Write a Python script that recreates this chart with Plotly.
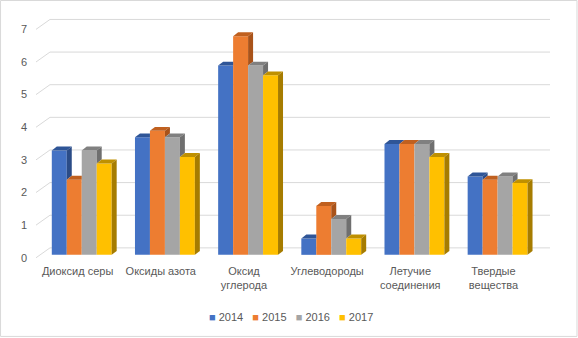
import plotly.graph_objects as go

categories = ["Диоксид серы", "Оксиды азота", "Оксид<br>углерода", "Углеводороды",
              "Летучие<br>соединения", "Твердые<br>вещества"]
years = ["2014", "2015", "2016", "2017"]
v2014 = [3.2, 3.6, 5.8, 0.5, 3.4, 2.4]
v2015 = [2.3, 3.8, 6.7, 1.5, 3.4, 2.3]
v2016 = [3.2, 3.6, 5.8, 1.1, 3.4, 2.4]
v2017 = [2.8, 3.0, 5.5, 0.5, 3.0, 2.2]
y_ticks = [0, 1, 2, 3, 4, 5, 6, 7]

series = [v2014, v2015, v2016, v2017]
front = ["#4472C4", "#ED7D31", "#A5A5A5", "#FFC000"]
top_c = ["#2F5597", "#C0601F", "#808080", "#BF9000"]
side_c = ["#2B4C87", "#A9531A", "#6F6F6F", "#A67C00"]

BAR_W = 0.18
OFFSETS = [-0.31, -0.13, 0.05, 0.23]
DX, DY = 0.06, 0.12
idx = list(range(len(categories)))

X_MIN, X_MAX = -0.5, 5.68
BACK_X = -0.332
BACK_DY = 0.214
LABEL_SHIFT = -0.09

fig = go.Figure()
shapes = []

for s, vals in enumerate(series):
    fig.add_trace(go.Bar(x=idx, y=vals, width=BAR_W, offset=OFFSETS[s], name=years[s],
                         marker=dict(color=front[s], line=dict(width=0)), showlegend=False,
                         hoverinfo="y"))
    for c, v in enumerate(vals):
        x0 = c + OFFSETS[s]
        x1 = x0 + BAR_W
        h = series[s + 1][c] if s < len(series) - 1 else 0
        if h > v:
            p = f"M {x0},{v} L {x1},{v} L {x1},{v+DY} L {x0+DX},{v+DY} Z"
        else:
            p = f"M {x0},{v} L {x1},{v} L {x1+DX},{v+DY} L {x0+DX},{v+DY} Z"
        shapes.append(dict(type="path", path=p, xref="x", yref="y", fillcolor=top_c[s],
                           line=dict(width=0), layer="above"))
        if v > h:
            p = f"M {x1},{h} L {x1},{v} L {x1+DX},{v+DY} L {x1+DX},{h+DY} Z"
            shapes.append(dict(type="path", path=p, xref="x", yref="y", fillcolor=side_c[s],
                               line=dict(width=0), layer="above"))

grid = "#D9D9D9"
for t in y_ticks:
    shapes.append(dict(type="line", xref="x", yref="y", x0=X_MIN, y0=t + LABEL_SHIFT,
                       x1=BACK_X, y1=t + BACK_DY, line=dict(color=grid, width=1), layer="below"))
    shapes.append(dict(type="line", xref="x", yref="y", x0=BACK_X, y0=t + BACK_DY,
                       x1=X_MAX, y1=t + BACK_DY, line=dict(color=grid, width=1), layer="below"))

# outer chart border
shapes.append(dict(type="rect", xref="paper", yref="paper", x0=-0.069, x1=1.0525,
                   y0=-0.296, y1=1.0585, line=dict(color="#D9D9D9", width=1), layer="below"))

legend_text = "&nbsp;&nbsp;&nbsp;".join(
    f'<span style="color:{front[i]}">■</span>&nbsp;{years[i]}' for i in range(len(years)))

fig.update_layout(
    width=578, height=338,
    margin=dict(l=36, r=28, t=15, b=75),
    paper_bgcolor="white", plot_bgcolor="white",
    barmode="overlay",
    font=dict(family="Liberation Sans, Arial, sans-serif", size=11, color="#595959"),
    xaxis=dict(range=[X_MIN, X_MAX], tickmode="array", tickvals=idx, ticktext=categories,
               showgrid=False, zeroline=False, showline=False, ticks=""),
    yaxis=dict(range=[-0.25, 7.35], tickmode="array",
               tickvals=[t + LABEL_SHIFT for t in y_ticks], ticktext=[str(t) for t in y_ticks],
               showgrid=False, zeroline=False, showline=False, ticks="", ticklabelstandoff=8),
    shapes=shapes,
    annotations=[dict(text=legend_text, xref="paper", yref="paper", x=(290.5 - 36) / 514,
                      y=(263 - 317) / 248, xanchor="center", yanchor="middle", showarrow=False,
                      font=dict(size=11, color="#595959"))],
    showlegend=False,
)

fig.write_html("out.html", config={"displayModeBar": False},
               post_script="document.body.style.margin='0';")
